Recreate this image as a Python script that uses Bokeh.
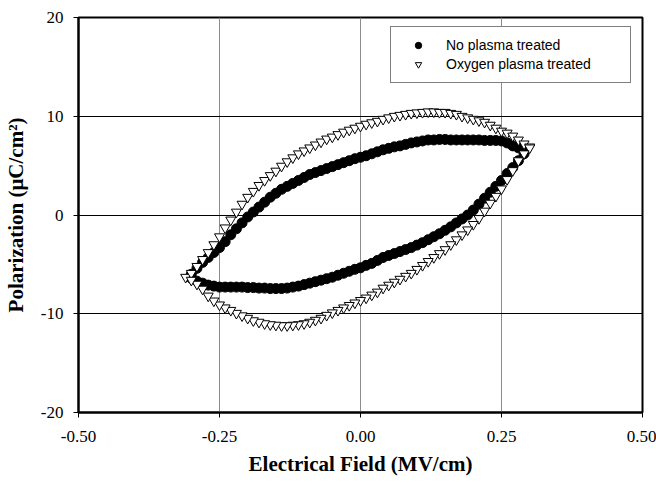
from bokeh.plotting import figure
from bokeh.models import Range1d, FixedTicker, Legend, LegendItem
from bokeh.embed import file_html
from bokeh.resources import INLINE

# ---- data ----
np_up_x = [-0.30, -0.29, -0.28, -0.27, -0.26, -0.25, -0.24, -0.23, -0.22, -0.21, -0.20,
           -0.19, -0.18, -0.17, -0.16, -0.15, -0.14, -0.13, -0.12, -0.11, -0.10,
           -0.09, -0.08, -0.07, -0.06, -0.05, -0.04, -0.03, -0.02, -0.01, 0.00,
           0.01, 0.02, 0.03, 0.04, 0.05, 0.06, 0.07, 0.08, 0.09, 0.10,
           0.11, 0.12, 0.13, 0.14, 0.15, 0.16, 0.17, 0.18, 0.19, 0.20,
           0.21, 0.22, 0.23, 0.24, 0.25, 0.26, 0.27, 0.28, 0.29]
np_up_y = [-6.0, -5.4, -4.8, -4.3, -3.8, -3.3, -2.7, -2.0, -1.4, -0.8, -0.2,
           0.3, 0.8, 1.3, 1.8, 2.2, 2.6, 2.9, 3.2, 3.5, 3.8,
           4.1, 4.3, 4.5, 4.7, 4.9, 5.1, 5.3, 5.5, 5.7, 5.85,
           6.0, 6.2, 6.4, 6.6, 6.75, 6.9, 7.0, 7.15, 7.3, 7.4,
           7.5, 7.6, 7.6, 7.65, 7.65, 7.6, 7.6, 7.6, 7.6, 7.6,
           7.6, 7.55, 7.55, 7.55, 7.5, 7.3, 7.0, 6.8, 6.6]
np_dn_x = [0.29, 0.28, 0.27, 0.26, 0.25, 0.24, 0.23, 0.22, 0.21, 0.20,
           0.19, 0.18, 0.17, 0.16, 0.15, 0.14, 0.13, 0.12, 0.11, 0.10,
           0.09, 0.08, 0.07, 0.06, 0.05, 0.04, 0.03, 0.02, 0.01, 0.00,
           -0.01, -0.02, -0.03, -0.04, -0.05, -0.06, -0.07, -0.08, -0.09, -0.10,
           -0.11, -0.12, -0.13, -0.14, -0.15, -0.16, -0.17, -0.18, -0.19, -0.20,
           -0.21, -0.22, -0.23, -0.24, -0.25, -0.26, -0.27, -0.28, -0.29, -0.30]
np_dn_y = [6.2, 5.5, 4.8, 4.2, 3.5, 2.9, 2.3, 1.7, 1.1, 0.5,
           0.0, -0.4, -0.8, -1.2, -1.55, -1.9, -2.2, -2.5, -2.8, -3.05,
           -3.3, -3.5, -3.7, -3.9, -4.1, -4.3, -4.6, -4.9, -5.1, -5.35,
           -5.5, -5.7, -5.9, -6.1, -6.3, -6.45, -6.6, -6.75, -6.9, -7.05,
           -7.2, -7.3, -7.4, -7.45, -7.45, -7.45, -7.4, -7.4, -7.35, -7.35,
           -7.3, -7.3, -7.3, -7.3, -7.3, -7.2, -7.1, -6.9, -6.7, -6.4]

ox_up_x = [-0.31, -0.30, -0.29, -0.28, -0.27, -0.26, -0.25, -0.24, -0.23, -0.22, -0.21, -0.20,
           -0.19, -0.18, -0.17, -0.16, -0.15, -0.14, -0.13, -0.12, -0.11, -0.10,
           -0.09, -0.08, -0.07, -0.06, -0.05, -0.04, -0.03, -0.02, -0.01, 0.00,
           0.01, 0.02, 0.03, 0.04, 0.05, 0.06, 0.07, 0.08, 0.09, 0.10,
           0.11, 0.12, 0.13, 0.14, 0.15, 0.16, 0.17, 0.18, 0.19, 0.20,
           0.21, 0.22, 0.23, 0.24, 0.25, 0.26, 0.27, 0.28, 0.29, 0.30]
ox_up_y = [-6.3, -5.9, -5.2, -4.5, -3.8, -3.0, -2.2, -1.3, -0.5, 0.3, 1.1, 1.8,
           2.4, 3.0, 3.5, 4.0, 4.45, 4.95, 5.4, 5.8, 6.2, 6.5,
           6.8, 7.1, 7.4, 7.7, 7.9, 8.15, 8.4, 8.6, 8.8, 9.0,
           9.2, 9.35, 9.5, 9.7, 9.85, 10.0, 10.1, 10.2, 10.3, 10.35,
           10.4, 10.45, 10.45, 10.4, 10.4, 10.3, 10.2, 10.0, 9.85, 9.7,
           9.55, 9.4, 9.1, 8.8, 8.5, 8.3, 8.0, 7.6, 7.2, 6.9]
ox_dn_x = [0.30, 0.29, 0.28, 0.27, 0.26, 0.25, 0.24, 0.23, 0.22, 0.21, 0.20,
           0.19, 0.18, 0.17, 0.16, 0.15, 0.14, 0.13, 0.12, 0.11, 0.10,
           0.09, 0.08, 0.07, 0.06, 0.05, 0.04, 0.03, 0.02, 0.01, 0.00,
           -0.01, -0.02, -0.03, -0.04, -0.05, -0.06, -0.07, -0.08, -0.09, -0.10,
           -0.11, -0.12, -0.13, -0.14, -0.15, -0.16, -0.17, -0.18, -0.19, -0.20,
           -0.21, -0.22, -0.23, -0.24, -0.25, -0.26, -0.27, -0.28, -0.29, -0.30]
ox_dn_y = [6.8, 6.2, 5.5, 4.5, 3.6, 2.65, 1.9, 1.2, 0.4, -0.35, -0.95,
           -1.5, -2.0, -2.5, -3.0, -3.5, -3.9, -4.3, -4.7, -5.1, -5.5,
           -5.9, -6.2, -6.5, -6.8, -7.1, -7.4, -7.8, -8.1, -8.4, -8.65,
           -8.9, -9.15, -9.4, -9.65, -9.9, -10.15, -10.45, -10.65, -10.85, -11.0,
           -11.1, -11.15, -11.2, -11.2, -11.15, -11.1, -11.0, -10.85, -10.7, -10.45,
           -10.2, -9.95, -9.65, -9.4, -9.1, -8.7, -8.2, -7.5, -7.0, -6.6]

x_ticks = [-0.50, -0.25, 0.00, 0.25, 0.50]
x_tick_labels = ["-0.50", "-0.25", "0.00", "0.25", "0.50"]
y_ticks = [-20, -10, 0, 10, 20]
y_tick_labels = ["-20", "-10", "0", "10", "20"]
series_names = ["No plasma treated", "Oxygen plasma treated"]

p = figure(width=656, height=484, output_backend="svg", toolbar_location=None,
           x_range=Range1d(-0.5, 0.5), y_range=Range1d(-20, 20),
           min_border_left=78, min_border_right=14, min_border_top=17, min_border_bottom=72)
p.background_fill_color = "white"
p.border_fill_color = "white"
p.outline_line_color = "black"
p.outline_line_width = 2

p.xaxis.ticker = FixedTicker(ticks=x_ticks)
p.yaxis.ticker = FixedTicker(ticks=y_ticks)
p.xaxis.major_label_overrides = {t: l for t, l in zip(x_ticks, x_tick_labels)}
p.yaxis.major_label_overrides = {t: l for t, l in zip(y_ticks, y_tick_labels)}

for ax in (p.xaxis, p.yaxis):
    ax.axis_line_color = "black"
    ax.axis_line_width = 2
    ax.major_tick_line_color = "black"
    ax.major_tick_line_width = 1
    ax.major_tick_out = 5
    ax.major_tick_in = 0
    ax.minor_tick_line_color = None
    ax.major_label_text_font = "Liberation Serif"
    ax.major_label_text_font_size = "17px"
    ax.major_label_text_color = "black"
    ax.axis_label_text_font = "Liberation Serif"
    ax.axis_label_text_font_size = "21px"
    ax.axis_label_text_font_style = "bold"
    ax.axis_label_text_color = "black"

p.xaxis.major_label_standoff = 13
p.yaxis.major_label_standoff = 10
p.xaxis.axis_label = "Electrical Field (MV/cm)"
p.yaxis.axis_label = "Polarization (\u03bcC/cm\u00b2)"
p.xaxis.axis_label_standoff = 7
p.yaxis.axis_label_standoff = 10

p.xgrid.grid_line_color = "#8c8c8c"
p.xgrid.grid_line_width = 1
p.ygrid.grid_line_color = "black"
p.ygrid.grid_line_width = 1

r1a = p.scatter(np_up_x, np_up_y, marker="circle", size=10, fill_color="black", line_color="black")
r1b = p.scatter(np_dn_x, np_dn_y, marker="circle", size=10, fill_color="black", line_color="black")
r2a = p.scatter(ox_up_x, ox_up_y, marker="inverted_triangle", size=10, fill_color="white", line_color="black", line_width=1)
r2b = p.scatter(ox_dn_x, ox_dn_y, marker="inverted_triangle", size=10, fill_color="white", line_color="black", line_width=1)

legend = Legend(items=[LegendItem(label=series_names[0], renderers=[r1a]),
                       LegendItem(label=series_names[1], renderers=[r2a])],
                location=(312, 329))
legend.border_line_color = "black"
legend.border_line_width = 1
legend.background_fill_color = "white"
legend.background_fill_alpha = 1
legend.label_text_font = "Liberation Sans"
legend.label_text_font_size = "14px"
legend.label_text_color = "black"
legend.padding = 10
legend.spacing = 3
legend.glyph_width = 34
legend.glyph_height = 16
legend.label_height = 16
legend.label_standoff = 11
legend.label_width = 174
legend.margin = 0
p.add_layout(legend)

open("out.html", "w").write(file_html(p, INLINE))
